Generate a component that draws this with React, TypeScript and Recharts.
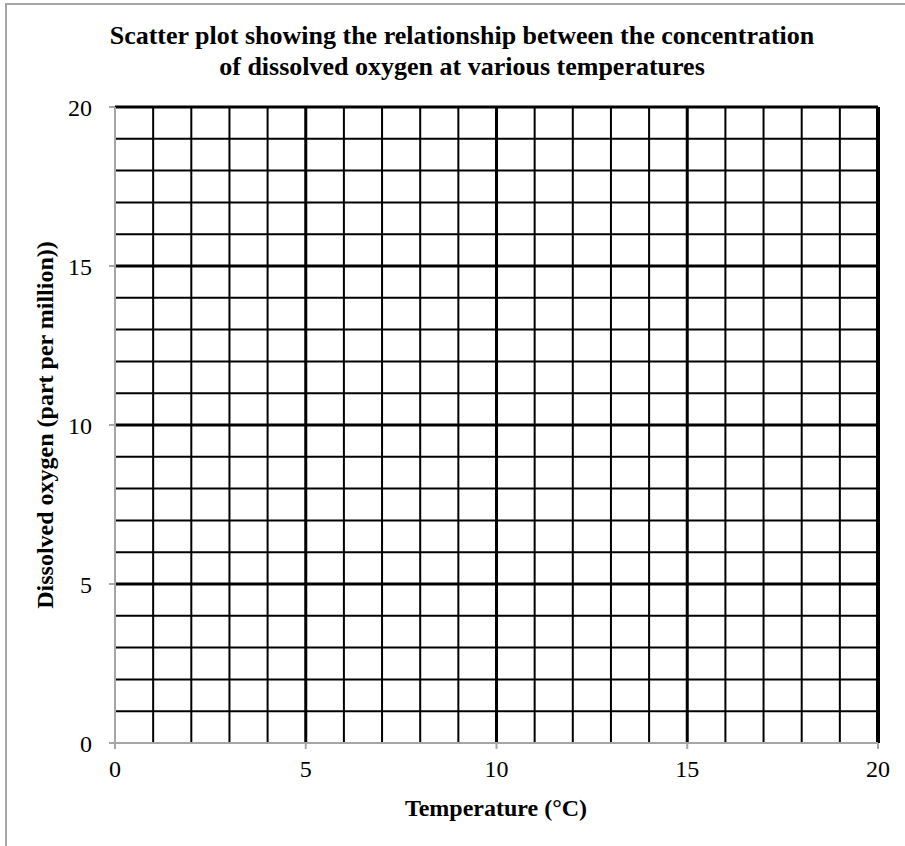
import { ScatterChart, Scatter, XAxis, YAxis, ReferenceLine } from 'recharts';

// Empty worksheet grid: no readings plotted yet
const readings: { temperature: number; oxygen: number }[] = [];

const xTicks = [0, 5, 10, 15, 20];
const yTicks = [0, 5, 10, 15, 20];
const gridSteps = [1, 2, 3, 4, 5, 6, 7, 8, 9, 10, 11, 12, 13, 14, 15, 16, 17, 18, 19, 20];

const titleLines = [
  'Scatter plot showing the relationship between the concentration',
  'of dissolved oxygen at various temperatures',
];
const xLabel = 'Temperature (°C)';
const yLabel = 'Dissolved oxygen (part per million))';

const font = '"Liberation Serif", "Times New Roman", serif';

export default function App() {
  return (
    <div style={{ position: 'absolute', left: 0, top: 0, width: 905, height: 846, background: '#fff' }}>
      <div
        style={{
          position: 'absolute',
          left: 5,
          top: 3,
          width: 900,
          height: 843,
          borderLeft: '2px solid #a6a6a6',
          borderTop: '2px solid #a6a6a6',
        }}
      />
      <div
        style={{
          position: 'absolute',
          left: 62,
          top: 20,
          width: 800,
          textAlign: 'center',
          fontFamily: font,
          fontWeight: 'bold',
          fontSize: 26,
          lineHeight: '31px',
          color: '#000',
          whiteSpace: 'nowrap',
        }}
      >
        {titleLines.map((line) => (
          <div key={line}>{line}</div>
        ))}
      </div>
      <ScatterChart
        width={905}
        height={846}
        margin={{ top: 107, right: 27, left: 55, bottom: 63 }}
        style={{ position: 'absolute', left: 0, top: 0 }}
      >
        {gridSteps.map((v) => (
          <ReferenceLine
            key={`v-${v}`}
            x={v}
            stroke="#000"
            strokeWidth={v === 20 ? 4 : v % 5 === 0 ? 3 : 2}
          />
        ))}
        {gridSteps.map((v) => (
          <ReferenceLine
            key={`h-${v}`}
            y={v}
            stroke="#000"
            strokeWidth={v % 5 === 0 ? 3 : 2}
          />
        ))}
        <XAxis
          type="number"
          dataKey="temperature"
          domain={[0, 20]}
          ticks={xTicks}
          allowDataOverflow
          height={40}
          stroke="#a6a6a6"
          strokeWidth={2}
          tickSize={6}
          tickMargin={11}
          tick={{ fill: '#000', fontFamily: font, fontSize: 24 }}
          label={{
            content: () => (
              <text x={496} y={816} textAnchor="middle" fontFamily={font} fontWeight="bold" fontSize={24} fill="#000">
                {xLabel}
              </text>
            ),
          }}
        />
        <YAxis
          type="number"
          dataKey="oxygen"
          domain={[0, 20]}
          ticks={yTicks}
          allowDataOverflow
          width={60}
          stroke="#a6a6a6"
          strokeWidth={2}
          tickSize={6}
          tickMargin={17}
          tick={{ fill: '#000', fontFamily: font, fontSize: 24 }}
          label={{
            content: () => (
              <text
                x={53}
                y={425}
                transform="rotate(-90 53 425)"
                textAnchor="middle"
                fontFamily={font}
                fontWeight="bold"
                fontSize={24}
                fill="#000"
              >
                {yLabel}
              </text>
            ),
          }}
        />
        <Scatter data={readings} fill="#000" isAnimationActive={false} />
      </ScatterChart>
    </div>
  );
}
